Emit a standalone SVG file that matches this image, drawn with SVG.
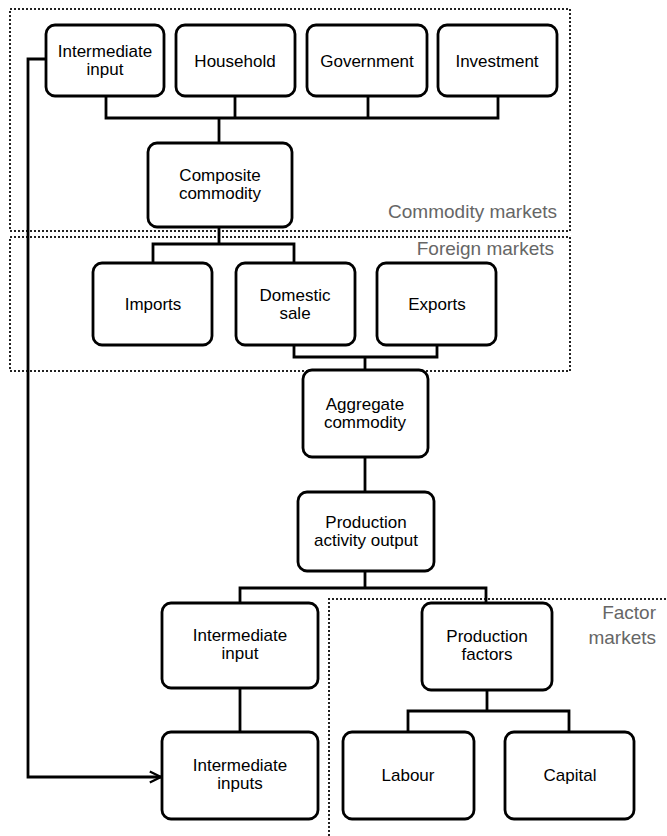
<svg xmlns="http://www.w3.org/2000/svg" width="667" height="836" viewBox="0 0 667 836">
<style>
.box{fill:#fff;stroke:#000;stroke-width:2.8}
.t{font-family:"Liberation Sans",Arial,sans-serif;font-size:17px;fill:#000;text-anchor:middle}
.lbl{font-family:"Liberation Sans",Arial,sans-serif;font-size:19px;fill:#666;text-anchor:end}
.zone{fill:none;stroke:#222;stroke-width:2;stroke-dasharray:2,2}
.c{fill:none;stroke:#000;stroke-width:2.8}
</style>
<defs>
<marker id="arr" viewBox="0 0 10 10" refX="9" refY="5" markerWidth="5" markerHeight="5" orient="auto" markerUnits="strokeWidth">
<path d="M1,1 L9,5 L1,9" fill="none" stroke="#000" stroke-width="1.6"/>
</marker>
</defs>
<g id="zones">
<rect class="zone" x="10" y="9" width="560" height="222"/>
<text class="lbl" x="557" y="218">Commodity markets</text>
<rect class="zone" x="10" y="237" width="560" height="134"/>
<text class="lbl" x="554" y="255">Foreign markets</text>
<path class="zone" d="M329,840 L329,599 L670,599"/>
<text class="lbl" x="656" y="619">Factor</text>
<text class="lbl" x="656" y="644">markets</text>
</g>
<g id="connectors">
<path class="c" d="M106,96 V118 H498 V97"/>
<path class="c" d="M235,96 V118"/>
<path class="c" d="M368,96 V118"/>
<path class="c" d="M219,118 V143"/>
<path class="c" d="M219,227 V244 M153,263 V244 H294 V263"/>
<path class="c" d="M294,345 V357 H437 V345 M365,357 V370"/>
<path class="c" d="M365,457 V492"/>
<path class="c" d="M365,571 V588 M240,603 V588 H486 V603"/>
<path class="c" d="M240,688 V732"/>
<path class="c" d="M487,690 V711 M408,732 V711 H569 V732"/>
<path class="c" d="M46,59 H28 V777 H161" marker-end="url(#arr)"/>
</g>
<g id="n-intermediate-input-top">
<rect class="box" x="46" y="25" width="118" height="71" rx="9"/>
<text class="t" x="105" y="57">Intermediate</text>
<text class="t" x="105" y="75">input</text>
</g>
<g id="n-household">
<rect class="box" x="176" y="25" width="119" height="71" rx="9"/>
<text class="t" x="235" y="67">Household</text>
</g>
<g id="n-government">
<rect class="box" x="307" y="25" width="120" height="71" rx="9"/>
<text class="t" x="367" y="67">Government</text>
</g>
<g id="n-investment">
<rect class="box" x="438" y="25" width="119" height="71" rx="9"/>
<text class="t" x="497" y="67">Investment</text>
</g>
<g id="n-composite">
<rect class="box" x="148" y="143" width="144" height="84" rx="9"/>
<text class="t" x="220" y="181">Composite</text>
<text class="t" x="220" y="199">commodity</text>
</g>
<g id="n-imports">
<rect class="box" x="93" y="263" width="119" height="82" rx="9"/>
<text class="t" x="153" y="310">Imports</text>
</g>
<g id="n-domestic">
<rect class="box" x="236" y="263" width="119" height="82" rx="9"/>
<text class="t" x="295" y="301">Domestic</text>
<text class="t" x="295" y="319">sale</text>
</g>
<g id="n-exports">
<rect class="box" x="377" y="263" width="119" height="82" rx="9"/>
<text class="t" x="437" y="310">Exports</text>
</g>
<g id="n-aggregate">
<rect class="box" x="303" y="370" width="125" height="87" rx="9"/>
<text class="t" x="365" y="410">Aggregate</text>
<text class="t" x="365" y="428">commodity</text>
</g>
<g id="n-production">
<rect class="box" x="298" y="492" width="136" height="79" rx="9"/>
<text class="t" x="366" y="528">Production</text>
<text class="t" x="366" y="546">activity output</text>
</g>
<g id="n-intermediate-input">
<rect class="box" x="162" y="603" width="156" height="85" rx="9"/>
<text class="t" x="240" y="641">Intermediate</text>
<text class="t" x="240" y="659">input</text>
</g>
<g id="n-intermediate-inputs">
<rect class="box" x="162" y="732" width="156" height="87" rx="9"/>
<text class="t" x="240" y="771">Intermediate</text>
<text class="t" x="240" y="789">inputs</text>
</g>
<g id="n-production-factors">
<rect class="box" x="422" y="603" width="130" height="87" rx="9"/>
<text class="t" x="487" y="642">Production</text>
<text class="t" x="487" y="660">factors</text>
</g>
<g id="n-labour">
<rect class="box" x="343" y="732" width="131" height="87" rx="9"/>
<text class="t" x="408" y="781">Labour</text>
</g>
<g id="n-capital">
<rect class="box" x="505" y="732" width="129" height="87" rx="9"/>
<text class="t" x="570" y="781">Capital</text>
</g>
</svg>
